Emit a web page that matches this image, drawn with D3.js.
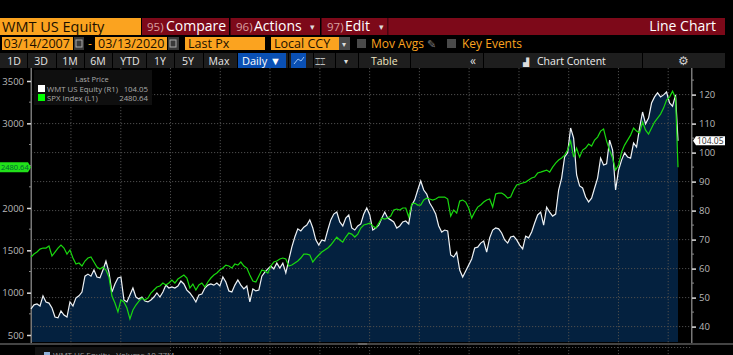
<!DOCTYPE html>
<html><head><meta charset="utf-8">
<script src="https://cdnjs.cloudflare.com/ajax/libs/d3/7.8.5/d3.min.js"></script>
<style>html,body{margin:0;padding:0;background:#000;overflow:hidden}svg{display:block}text{font-family:"Open Sans",sans-serif}</style>
</head><body><svg id="c" width="733" height="355"></svg>
<script>
const startDate = "2007-03-14", endDate = "2020-03-13", sampleDays = 22;
const wmt = [46.1,47.5,47.8,47.1,50.6,48.5,48.1,46.4,43.3,43.0,45.4,44.0,43.3,48.5,47.1,49.9,50.6,51.9,57.4,58.1,57.4,59.5,57.1,56.8,59.5,62.6,58.8,51.9,54.7,56.8,57.1,49.2,48.5,50.9,53.3,50.2,49.5,50.2,48.8,48.5,49.2,50.2,51.6,50.2,51.9,54.3,53.3,53.7,53.3,54.0,55.7,54.7,52.6,51.6,50.2,48.5,50.9,51.2,53.3,54.3,54.7,54.3,55.0,54.0,57.1,55.4,52.3,51.9,54.3,56.1,54.3,53.0,54.0,48.5,53.0,52.3,52.6,57.4,58.8,59.9,60.9,59.9,61.9,60.2,61.9,58.5,63.0,67.4,70.9,73.7,73.0,74.3,75.0,76.8,74.0,69.9,68.1,69.9,69.5,73.3,76.8,78.8,79.5,76.1,74.7,77.4,78.5,74.0,73.3,74.7,75.4,78.8,80.9,78.5,73.3,74.0,75.0,77.4,79.5,77.4,76.8,76.1,74.0,74.7,76.1,76.4,75.4,81.9,83.7,87.1,90.2,87.1,85.7,82.6,80.9,78.8,74.7,72.6,73.3,73.0,64.7,64.0,65.7,59.5,57.1,59.2,61.2,63.3,67.1,67.4,68.8,69.5,65.7,70.6,73.3,74.0,73.7,72.3,69.9,68.8,70.9,71.2,69.9,68.1,66.8,71.2,70.6,72.6,75.7,78.5,79.5,75.0,81.2,79.5,78.1,78.8,87.1,91.2,98.5,99.9,108.5,105.0,92.3,88.5,87.8,84.7,83.0,84.3,87.8,91.2,98.1,95.7,96.1,104.3,100.9,87.1,94.0,97.4,99.9,98.5,98.1,103.3,101.9,108.5,114.0,109.9,111.9,117.1,119.2,120.6,119.2,119.9,120.9,117.1,116.0,119.9,104.05];
const spx = [1421,1456,1480,1515,1527,1527,1551,1433,1480,1527,1563,1527,1456,1504,1409,1338,1350,1315,1374,1409,1421,1362,1303,1279,1303,1267,1185,960,878,772,913,890,819,689,795,854,901,937,913,937,996,1031,1067,1079,1114,1090,1114,1149,1114,1161,1185,1208,1173,1055,1102,1031,1090,1114,1067,1126,1173,1208,1232,1267,1291,1326,1315,1291,1338,1326,1362,1315,1291,1208,1138,1126,1197,1267,1256,1232,1315,1362,1374,1397,1409,1397,1315,1326,1350,1374,1409,1456,1456,1445,1362,1409,1445,1480,1504,1527,1563,1610,1657,1622,1598,1657,1704,1692,1657,1692,1763,1799,1810,1822,1787,1763,1822,1881,1869,1881,1905,1976,1988,1976,2000,2000,1893,2047,2058,2035,2035,2094,2117,2106,2094,2106,2129,2129,2129,2106,1905,1976,1940,2082,2094,2070,2000,1881,1952,2011,2035,2070,2094,2106,2011,2165,2176,2176,2153,2117,2129,2212,2271,2283,2295,2306,2330,2354,2365,2413,2424,2436,2448,2424,2483,2531,2566,2590,2625,2684,2790,2601,2708,2601,2684,2708,2755,2731,2802,2838,2908,2932,2790,2684,2590,2448,2507,2660,2743,2802,2861,2944,2908,2885,3015,2920,2873,2944,3015,3062,3109,3180,3274,3310,3380,3298,2480.64];
const yearTicks = [2008,2009,2010,2011,2012,2013,2014,2015,2016,2017,2018,2019,2020];
const leftMajor = [500,1000,1500,2000,3000,3500];
const leftMinor = [750,1250,1750,2250,2500,2750,3250];
const rightMajor = [40,50,60,70,80,90,100,110,120];
const rightMinor = [45,55,65,75,85,95,105,115,125];
const periods = ["1D","3D","1M","6M","YTD","1Y","5Y","Max"];

const svg = d3.select("#c");
const T = {top:68, bot:343, l:31, r:691, dataR:678};
const start = new Date(startDate+"T00:00:00Z"), end = new Date(endDate+"T00:00:00Z");
const dates = wmt.map((_,i)=> { const d = d3.utcDay.offset(start,i*sampleDays); return d>end?end:d; });
const x = d3.scaleUtc().domain([start,end]).range([T.l,T.dataR]);
const yL = d3.scaleLinear().domain([500,3500]).range([335,81]);
const yR = d3.scaleLinear().domain([40,120]).range([326.6,94.6]);

function rect(g,a,b,w,h,f){return g.append("rect").attr("x",a).attr("y",b).attr("width",w).attr("height",h).attr("fill",f);}
function text(g,a,b,s,size,f,anchor){return g.append("text").attr("x",a).attr("y",b).attr("font-size",size).attr("fill",f).attr("text-anchor",anchor||"start").text(s);}

// header
const h = svg.append("g");
const ORANGE="#fba31f", RED="#7d0919";
rect(h,0,18,141,17,ORANGE);
text(h,2,32,"WMT US Equity",14.5,"#1a1000");
rect(h,142,18,583,17,RED);
rect(h,229,18,1.5,17,"#000"); rect(h,320,18,1.5,17,"#000"); rect(h,387,18,1.5,17,"#4a0510");
text(h,147,31,"95)",11.5,"#d9a0a0"); text(h,166,31,"Compare",14,"#fff");
text(h,236,31,"96)",11.5,"#d9a0a0"); text(h,254,31,"Actions",14,"#fff"); text(h,310,30,"▾",9,"#ddd");
text(h,327,31,"97)",11.5,"#d9a0a0"); text(h,345,31,"Edit",14,"#fff"); text(h,379,30,"▾",9,"#ddd");
text(h,716,31,"Line Chart",14,"#fff","end");
// row 2
rect(h,2,37,71,13,ORANGE); text(h,3.5,48,"03/14/2007",12.5,"#1a1000");
rect(h,74,37,10,13,"#3a3a3a"); rect(h,76,40,6,7,"none").attr("stroke","#aaa");
text(h,88,48,"-",12,ORANGE);
rect(h,95,37,72,13,ORANGE); text(h,98,48,"03/13/2020",12.5,"#1a1000");
rect(h,168,37,11,13,"#3a3a3a"); rect(h,170,40,6,7,"none").attr("stroke","#aaa");
rect(h,185,37,80,13,ORANGE); text(h,188,48,"Last Px",12.5,"#1a1000");
rect(h,271,37,68,13,ORANGE); text(h,274,48,"Local CCY",12.5,"#1a1000");
rect(h,339,37,11,13,"#4a4a4a"); text(h,342,47,"▾",8,"#ddd");
rect(h,357,39,9,9,"#4a4a4a");
text(h,371,48,"Mov Avgs",12,ORANGE);
text(h,427,48,"✎",11,"#777");
rect(h,447,39,9,9,"#4a4a4a");
text(h,462,48,"Key Events",12,ORANGE);
// row 3
rect(h,0,53,725,15,"#1e1e1e");
const pX=[14,41,70,98,130,160,188,219];
periods.forEach((p,i)=>text(h,pX[i],65,p,10.5,"#e8e8e8","middle"));
[27,56,84,112,146,174,203,237,288,313,335,358,410,483,642].forEach(a=>rect(h,a,53,1,15,"#000"));
rect(h,238,53,48,15,"#0a50b4"); text(h,242,65,"Daily ▼",11,"#fff");
rect(h,291,53,15,15,"#0a50b4");
h.append("polyline").attr("points","294,64 298,59 301,61 304,57").attr("fill","none").attr("stroke","#9cc4f5");
text(h,320,65,"⌶⌶",9,"#bbb","middle");
text(h,346,64,"▾",8,"#ddd","middle");
text(h,371,65,"Table",10.5,"#f0e6c0");
text(h,473,65,"«",12,"#ddd","middle");
text(h,526,65,"▟",8,"#ddd","middle");
text(h,537,65,"Chart Content",10.5,"#eee");
text(h,683,65,"⚙",12,"#ccc","middle");

// area beneath WMT
svg.append("path").datum(wmt).attr("fill","#04213f")
 .attr("d",d3.area().x((d,i)=>x(dates[i])).y0(T.bot-1).y1(d=>yR(d)));

// grid
const grid = svg.append("g").attr("stroke","#4d4d4d").attr("stroke-dasharray","1.2,1.8");
rightMajor.forEach(v=>grid.append("line").attr("x1",T.l).attr("x2",T.r).attr("y1",yR(v)).attr("y2",yR(v)));
yearTicks.forEach(v=>{const px=x(new Date(Date.UTC(v,0,1)));grid.append("line").attr("x1",px).attr("x2",px).attr("y1",T.top).attr("y2",355);});
grid.append("line").attr("x1",170).attr("x2",T.r).attr("y1",347.5).attr("y2",347.5);

// axes
function axis(scale,side,major,minor,pos){
 const g = svg.append("g").attr("transform",`translate(${pos},0)`);
 const ax=(side==="l"?d3.axisLeft(scale):d3.axisRight(scale));
 g.call(ax.tickValues(major).tickSize(4).tickPadding(3).tickFormat(d3.format("d")));
 g.selectAll(".domain").remove();
 g.selectAll("line").attr("stroke","#ddd").attr("stroke-width",1.5);
 g.selectAll("text").attr("fill","#b9b9b9").attr("font-size",9.5).attr("font-family",'"Open Sans",sans-serif');
 minor.forEach(v=>g.append("line").attr("x1",0).attr("x2",side==="l"?-2:2).attr("y1",scale(v)).attr("y2",scale(v)).attr("stroke","#888"));
}
rect(svg,30.5,T.top,1.5,T.bot-T.top,"#777");
rect(svg,691,T.top,1.5,T.bot-T.top,"#777");
axis(yL,"l",leftMajor,leftMinor,31);
axis(yR,"r",rightMajor,rightMinor,692);

// lines
svg.append("path").datum(wmt).attr("fill","none").attr("stroke","#eef2f5").attr("stroke-width",1.2)
 .attr("d",d3.line().x((d,i)=>x(dates[i])).y(d=>yR(d)));
svg.append("path").datum(spx).attr("fill","none").attr("stroke","#19d80f").attr("stroke-width",1.2)
 .attr("d",d3.line().x((d,i)=>x(dates[i])).y(d=>yL(d)));

// footer bar
rect(svg,0,343,733,2,"#444"); rect(svg,358,343,9,2,"#666");
rect(svg,35,347,135,8,"#111");
rect(svg,44,352,6,3,"#8fb0d8");
text(svg,53,358,"WMT US Equity - Volume  10.77M",8,"#999");

// legend
const lg=svg.append("g");
rect(lg,34,70,118,35,"#0f0f0f");
text(lg,92,82,"Last Price",7.5,"#aaa","middle");
rect(lg,38,85,7,7,"#fff"); text(lg,47,91.5,"WMT US Equity  (R1)",7.8,"#aaa"); text(lg,148,91.5,"104.05",7.8,"#aaa","end");
rect(lg,38,94,7,7,"#0f0"); text(lg,47,100.5,"SPX Index  (L1)",7.8,"#aaa"); text(lg,148,100.5,"2480.64",7.8,"#aaa","end");

// last-value tags
const yv=yR(wmt[wmt.length-1]);
svg.append("path").attr("d",`M693 ${yv} l3 -4.5 h29 v9 h-29 z`).attr("fill","#fff");
text(svg,697,yv+3.5,"104.05",8.5,"#333");
const gv=yL(spx[spx.length-1]);
svg.append("path").attr("d",`M0 ${gv-5} h28 l3 5 l-3 5 h-28 z`).attr("fill","#22e01a");
text(svg,1,gv+3,"2480.64",7.5,"#063");
</script></body></html>
